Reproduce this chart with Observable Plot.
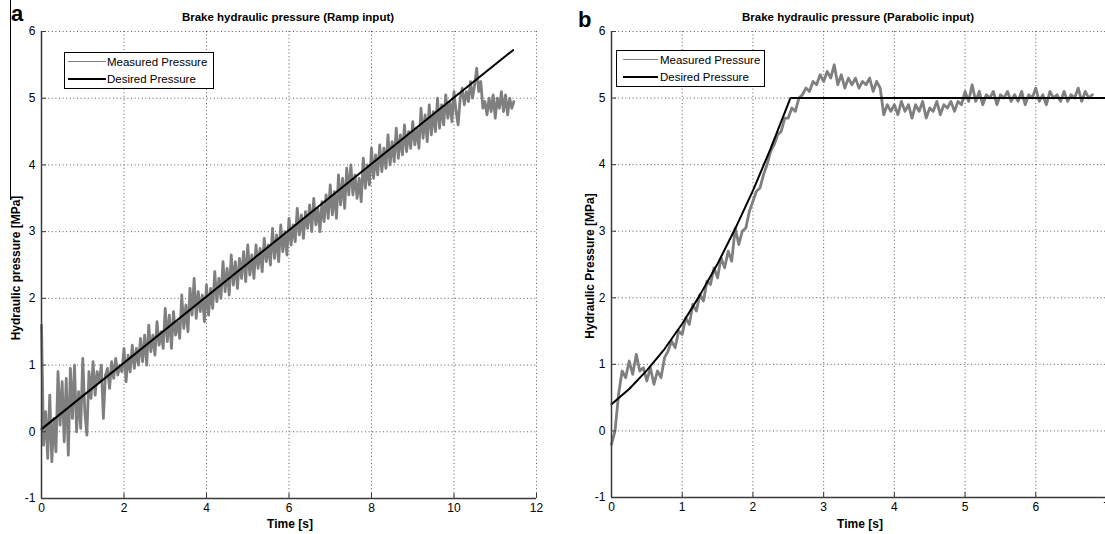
<!DOCTYPE html>
<html><head><meta charset="utf-8">
<script src="https://cdn.jsdelivr.net/npm/d3@7"></script>
<script src="https://cdn.jsdelivr.net/npm/@observablehq/plot@0.6"></script>
<style>
html,body{margin:0;padding:0;background:#fff;overflow:hidden;width:1105px;height:534px;}
#root{position:relative;width:1105px;height:534px;font-family:"Liberation Sans",Arial,Helvetica,sans-serif;color:#000;}
.abs{position:absolute;white-space:nowrap;}
.ttl{font-weight:bold;font-size:11.5px;transform:translate(-50%,-50%);}
.xl{font-weight:bold;font-size:12px;transform:translate(-50%,-50%);}
.yl{font-weight:bold;font-size:12px;transform:translate(-50%,-50%) rotate(-90deg);}
.pl{font-weight:bold;font-size:22px;line-height:1;}
.leg{border:1px solid #000;background:#fff;box-sizing:border-box;}
.leg .ln{position:absolute;height:0;}
.leg .tx{position:absolute;font-size:11.5px;transform:translateY(-50%);}
</style>
</head><body>
<div id="root">
  <div id="plotA" class="abs" style="left:0;top:0;width:552px;height:534px"></div>
  <div id="plotB" class="abs" style="left:552px;top:0;width:560px;height:534px"></div>
  <div class="abs" style="left:10px;top:0;width:1px;height:200px;background:#000"></div>
  <div class="abs pl" style="left:11px;top:3px">a</div>
  <div class="abs pl" style="left:578px;top:9px">b</div>
  <div id="titleA" class="abs ttl" style="left:288px;top:17px"></div>
  <div id="titleB" class="abs ttl" style="left:858px;top:17px"></div>
  <div id="xlabA" class="abs xl" style="left:290px;top:524px"></div>
  <div id="xlabB" class="abs xl" style="left:860px;top:524px"></div>
  <div id="ylabA" class="abs yl" style="left:16px;top:268px"></div>
  <div id="ylabB" class="abs yl" style="left:590px;top:266px"></div>
  <div id="legA" class="abs leg" style="left:64px;top:52px;width:150px;height:37px"></div>
  <div id="legB" class="abs leg" style="left:616px;top:50px;width:149px;height:37px"></div>
</div>
<script>
// ---- texts ----
const titles = ["Brake hydraulic pressure (Ramp input)", "Brake hydraulic pressure (Parabolic input)"];
const xLabels = ["Time [s]", "Time [s]"];
const yLabels = ["Hydraulic pressure [MPa]", "Hydraulic Pressure [MPa]"];
const legendNames = ["Measured Pressure", "Desired Pressure"];

// ---- axes ----
const xTicksA = [0, 2, 4, 6, 8, 10, 12];
const xTicksB = [0, 1, 2, 3, 4, 5, 6, 7];
const yTicks = [-1, 0, 1, 2, 3, 4, 5, 6];

// ---- panel a : ramp input ----
const timeA = [
  0,0.05,0.1,0.15,0.2,0.25,0.3,0.35,0.4,0.45,0.5,0.55,0.6,0.65,0.7,0.75,0.8,0.85,0.9,0.95,
  1,1.05,1.1,1.15,1.2,1.25,1.3,1.35,1.4,1.45,1.5,1.55,1.6,1.65,1.7,1.75,1.8,1.85,1.9,1.95,
  2,2.05,2.1,2.15,2.2,2.25,2.3,2.35,2.4,2.45,2.5,2.55,2.6,2.65,2.7,2.75,2.8,2.85,2.9,2.95,
  3,3.05,3.1,3.15,3.2,3.25,3.3,3.35,3.4,3.45,3.5,3.55,3.6,3.65,3.7,3.75,3.8,3.85,3.9,3.95,
  4,4.05,4.1,4.15,4.2,4.25,4.3,4.35,4.4,4.45,4.5,4.55,4.6,4.65,4.7,4.75,4.8,4.85,4.9,4.95,
  5,5.05,5.1,5.15,5.2,5.25,5.3,5.35,5.4,5.45,5.5,5.55,5.6,5.65,5.7,5.75,5.8,5.85,5.9,5.95,
  6,6.05,6.1,6.15,6.2,6.25,6.3,6.35,6.4,6.45,6.5,6.55,6.6,6.65,6.7,6.75,6.8,6.85,6.9,6.95,
  7,7.05,7.1,7.15,7.2,7.25,7.3,7.35,7.4,7.45,7.5,7.55,7.6,7.65,7.7,7.75,7.8,7.85,7.9,7.95,
  8,8.05,8.1,8.15,8.2,8.25,8.3,8.35,8.4,8.45,8.5,8.55,8.6,8.65,8.7,8.75,8.8,8.85,8.9,8.95,
  9,9.05,9.1,9.15,9.2,9.25,9.3,9.35,9.4,9.45,9.5,9.55,9.6,9.65,9.7,9.75,9.8,9.85,9.9,9.95,
  10,10.05,10.1,10.15,10.2,10.25,10.3,10.35,10.4,10.45,10.5,10.55,10.6,10.65,10.7,10.75,10.8,10.85,10.9,10.95,
  11,11.05,11.1,11.15,11.2,11.25,11.3,11.35,11.4,11.45];
const measuredA = [
  1.6,-0.2,0.3,-0.4,0.55,-0.45,0.2,-0.3,0.9,0.1,0.75,-0.15,0.8,-0.35,0.95,0.2,1.0,0.0,0.6,0.05,
  1.1,0.3,-0.05,0.9,0.5,1.05,0.55,0.9,0.75,1.0,0.2,0.85,0.95,0.65,1.05,0.8,1.1,0.85,1.0,0.9,
  1.25,0.75,1.15,0.9,1.3,0.95,1.25,1.0,1.4,1.05,1.45,1.0,1.6,1.2,1.45,1.15,1.65,1.3,1.5,1.25,
  1.85,1.35,1.75,1.25,1.8,1.45,1.65,1.4,2.05,1.55,1.9,1.5,2.15,1.75,2.3,1.7,2.1,1.8,2.05,1.65,
  2.2,1.75,2.15,1.85,2.4,1.95,2.3,2.0,2.55,2.1,2.45,2.05,2.65,2.2,2.55,2.15,2.6,2.3,2.7,2.25,
  2.8,2.35,2.65,2.3,2.8,2.45,2.75,2.4,2.9,2.55,2.8,2.5,3.05,2.6,2.95,2.55,3.1,2.7,3.0,2.65,
  3.2,2.8,3.1,2.85,3.35,2.95,3.25,2.9,3.3,3.05,3.4,3.0,3.5,3.1,3.35,3.0,3.45,3.15,3.55,3.2,
  3.7,3.25,3.6,3.2,3.85,3.4,3.8,3.35,3.95,3.55,4.0,3.55,3.85,3.5,3.8,3.45,4.1,3.65,4.0,3.7,
  4.25,3.8,4.15,3.85,4.3,3.9,4.25,3.95,4.45,4.0,4.35,4.05,4.55,4.1,4.45,4.15,4.6,4.2,4.5,4.25,
  4.65,4.3,4.55,4.25,4.85,4.4,4.75,4.35,4.9,4.45,4.8,4.5,5.0,4.55,4.9,4.6,5.05,4.7,4.95,4.65,
  5.1,4.8,4.6,5.0,5.15,4.9,5.1,4.95,5.25,5.0,5.2,5.45,5.1,5.25,4.85,4.95,4.75,5.0,4.8,5.05,
  4.7,5.0,4.85,5.1,4.8,5.05,4.75,5.0,4.85,4.95];
const timeDesA = [0, 11.43];
const desiredA = [0.04, 5.72];

// ---- panel b : parabolic input ----
const timeB = [0,0.05,0.1,0.15,0.2,0.25,0.3,0.35,0.4,0.45,0.5,0.55,0.6,0.65,0.7,0.75,0.8,0.85,0.9,0.95,
  1,1.05,1.1,1.15,1.2,1.25,1.3,1.35,1.4,1.45,1.5,1.55,1.6,1.65,1.7,1.75,1.8,1.85,1.9,1.95,
  2,2.05,2.1,2.15,2.2,2.25,2.3,2.35,2.4,2.45,2.5,2.55,2.6,2.65,2.7,2.75,2.8,2.85,2.9,2.95,
  3,3.05,3.1,3.15,3.2,3.25,3.3,3.35,3.4,3.45,3.5,3.55,3.6,3.65,3.7,3.75,3.8,3.85,3.9,3.95,
  4,4.05,4.1,4.15,4.2,4.25,4.3,4.35,4.4,4.45,4.5,4.55,4.6,4.65,4.7,4.75,4.8,4.85,4.9,4.95,
  5,5.05,5.1,5.15,5.2,5.25,5.3,5.35,5.4,5.45,5.5,5.55,5.6,5.65,5.7,5.75,5.8,5.85,5.9,5.95,
  6,6.05,6.1,6.15,6.2,6.25,6.3,6.35,6.4,6.45,6.5,6.55,6.6,6.65,6.7,6.75,6.8];
const measuredB = [-0.2,0.0,0.55,0.9,0.8,1.05,0.85,1.15,0.9,0.95,0.75,0.95,0.7,0.9,0.8,1.1,1.2,1.35,1.25,1.5,
  1.45,1.7,1.6,1.9,1.8,2.05,1.95,2.25,2.2,2.45,2.3,2.6,2.45,2.7,2.55,3.05,2.8,3.0,3.05,3.3,
  3.45,3.6,3.65,3.85,4.0,4.2,4.3,4.45,4.5,4.7,4.7,4.85,4.8,5.0,5.05,5.15,5.1,5.25,5.2,5.35,
  5.25,5.4,5.3,5.5,5.2,5.35,5.15,5.3,5.2,5.3,5.15,5.25,5.2,5.3,5.1,5.25,5.15,4.75,4.9,4.8,
  4.9,4.75,4.95,4.8,4.9,4.7,4.9,4.8,4.95,4.7,4.85,4.8,4.95,4.75,4.9,4.85,4.95,4.8,4.95,4.9,
  5.1,4.95,5.2,4.95,5.1,4.9,5.05,5.0,5.1,4.9,5.05,5.0,5.1,4.95,5.05,4.95,5.1,4.9,5.05,5.0,
  5.15,4.95,5.05,4.9,5.1,5.0,5.05,4.95,5.1,4.95,5.05,5.0,5.15,4.95,5.1,5.0,5.05];
const timeDesB = [0,0.25,0.5,0.75,1,1.25,1.5,1.75,2,2.25,2.53,7];
const desiredB = [0.4,0.63,0.91,1.23,1.61,2.04,2.51,3.04,3.61,4.24,5.0,5.0];

// ---- styles ----
const measuredColor = "#7f7f7f";
const desiredColor = "#000000";
const axisColor = "#3a3a3a";
const gridColor = "#222";

function panel({times, meas, tDes, des, xTicks, width, marginLeft, marginRight, marginBottom}) {
  const mData = times.map((t, i) => ({t, p: meas[i]}));
  const dData = tDes.map((t, i) => ({t, p: des[i]}));
  const height = 534, marginTop = 31;
  const innerW = width - marginLeft - marginRight;
  const innerH = height - marginTop - marginBottom;
  return Plot.plot({
    width, height, marginLeft, marginRight, marginTop, marginBottom,
    style: {fontFamily: "'Liberation Sans', Arial, sans-serif", fontSize: "12px", color: "#000", background: "transparent", maxWidth: "none"},
    x: {domain: [xTicks[0], xTicks[xTicks.length - 1]]},
    y: {domain: [yTicks[0], yTicks[yTicks.length - 1]]},
    marks: [
      Plot.gridX(xTicks, {stroke: gridColor, strokeOpacity: 0.75, strokeDasharray: "1,2.6"}),
      Plot.gridY(yTicks, {stroke: gridColor, strokeOpacity: 0.75, strokeDasharray: "1,2.6"}),
      Plot.axisX(xTicks, {tickSize: 0, tickPadding: 5, label: null, fontSize: 12, tickFormat: d => String(d)}),
      Plot.axisY(yTicks, {tickSize: 0, tickPadding: 6, label: null, fontSize: 12, tickFormat: d => String(d)}),
      Plot.line(mData, {x: "t", y: "p", stroke: measuredColor, strokeWidth: 2.8, strokeLinejoin: "round"}),
      Plot.line(dData, {x: "t", y: "p", stroke: desiredColor, strokeWidth: 2}),
      Plot.ruleX([xTicks[0]], {stroke: axisColor, strokeWidth: 1.5}),
      Plot.ruleY([yTicks[0]], {stroke: axisColor, strokeWidth: 1.5}),
      Plot.tickX(xTicks, {x: d => d, stroke: axisColor, strokeWidth: 1, insetTop: innerH - 5}),
      Plot.tickY(yTicks, {y: d => d, stroke: axisColor, strokeWidth: 1, insetRight: innerW - 5})
    ]
  });
}

document.getElementById("plotA").appendChild(panel({
  times: timeA, meas: measuredA, tDes: timeDesA, des: desiredA, xTicks: xTicksA,
  width: 552, marginLeft: 41, marginRight: 16, marginBottom: 36
}));
document.getElementById("plotB").appendChild(panel({
  times: timeB, meas: measuredB, tDes: timeDesB, des: desiredB, xTicks: xTicksB,
  width: 560, marginLeft: 59, marginRight: 6, marginBottom: 37
}));

document.getElementById("titleA").textContent = titles[0];
document.getElementById("titleB").textContent = titles[1];
document.getElementById("xlabA").textContent = xLabels[0];
document.getElementById("xlabB").textContent = xLabels[1];
document.getElementById("ylabA").textContent = yLabels[0];
document.getElementById("ylabB").textContent = yLabels[1];

function legend(id, lineLeft, lineW, y1, y2, textLeft) {
  const el = document.getElementById(id);
  const items = [[measuredColor, 1.5, y1], [desiredColor, 2, y2]];
  items.forEach(([c, w, y], i) => {
    const ln = document.createElement("div");
    ln.className = "ln";
    ln.style.cssText = `left:${lineLeft}px;top:${y - w / 2}px;width:${lineW}px;border-top:${w}px solid ${c}`;
    el.appendChild(ln);
    const tx = document.createElement("div");
    tx.className = "tx";
    tx.style.left = textLeft + "px";
    tx.style.top = y + "px";
    tx.textContent = legendNames[i];
    el.appendChild(tx);
  });
}
legend("legA", 3, 38, 9, 26, 42);
legend("legB", 6, 35, 9, 26, 43);
</script>
</body></html>
